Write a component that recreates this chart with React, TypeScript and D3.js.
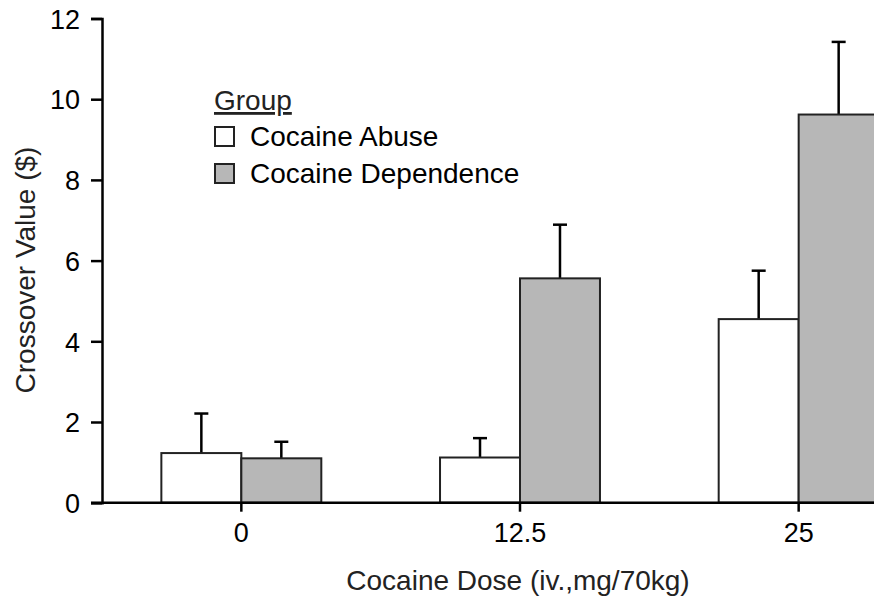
import React, { useEffect, useRef } from 'react'
import * as d3 from 'd3'

const doses = ['0', '12.5', '25']
const groups = ['Cocaine Abuse', 'Cocaine Dependence']
const abuseMeans = [1.23, 1.12, 4.55]
const abuseErr = [2.21, 1.6, 5.75]
const depMeans = [1.1, 5.56, 9.62]
const depErr = [1.51, 6.89, 11.42]
const yTicks = [0, 2, 4, 6, 8, 10, 12]
const groupFill = ['#ffffff', '#b7b7b7']

const W = 874
const H = 597

const App = () => {
  const svgRef = useRef<SVGSVGElement>(null)

  useEffect(() => {
    document.body.style.margin = '0'
    const svg = d3.select(svgRef.current)
    svg.selectAll('*').remove()

    const margin = { top: 18.5, left: 102, bottom: 95 }
    const baseY = H - margin.bottom + 0.7

    const y = d3.scaleLinear().domain([0, 12]).range([baseY, margin.top])

    // outer band for doses, inner band for groups
    const x0 = d3
      .scaleBand()
      .domain(doses)
      .range([margin.left, margin.left + 836])
      .paddingInner(0.426)
      .paddingOuter(0.213)
    const x1 = d3.scaleBand().domain(groups).range([0, x0.bandwidth()])

    const rows = doses.map((d, i) => ({
      dose: d,
      vals: [
        { g: groups[0], m: abuseMeans[i], e: abuseErr[i] },
        { g: groups[1], m: depMeans[i], e: depErr[i] },
      ],
    }))

    const font = 'Liberation Sans, Arial, Helvetica, sans-serif'

    // error bars first so bar outlines sit over them
    const cells = svg
      .append('g')
      .selectAll('g')
      .data(rows)
      .enter()
      .append('g')
      .attr('transform', (d) => `translate(${x0(d.dose)},0)`)

    cells
      .selectAll('line.err')
      .data((d) => d.vals)
      .enter()
      .append('line')
      .attr('class', 'err')
      .attr('x1', (d) => x1(d.g)! + x1.bandwidth() / 2)
      .attr('x2', (d) => x1(d.g)! + x1.bandwidth() / 2)
      .attr('y1', (d) => y(d.m))
      .attr('y2', (d) => y(d.e))
      .attr('stroke', '#000')
      .attr('stroke-width', 2.5)

    cells
      .selectAll('line.cap')
      .data((d) => d.vals)
      .enter()
      .append('line')
      .attr('class', 'cap')
      .attr('x1', (d) => x1(d.g)! + x1.bandwidth() / 2 - 7)
      .attr('x2', (d) => x1(d.g)! + x1.bandwidth() / 2 + 7)
      .attr('y1', (d) => y(d.e))
      .attr('y2', (d) => y(d.e))
      .attr('stroke', '#000')
      .attr('stroke-width', 2.5)

    cells
      .selectAll('rect')
      .data((d) => d.vals)
      .enter()
      .append('rect')
      .attr('x', (d) => x1(d.g)!)
      .attr('y', (d) => y(d.m))
      .attr('width', x1.bandwidth())
      .attr('height', (d) => y(0) - y(d.m))
      .attr('fill', (d) => groupFill[groups.indexOf(d.g)])
      .attr('stroke', '#222')
      .attr('stroke-width', 2)

    // y axis
    const yAxis = svg
      .append('g')
      .attr('transform', `translate(${margin.left},0)`)
      .call(d3.axisLeft(y).tickValues(yTicks).tickSize(11).tickPadding(11))
    yAxis.select('.domain').attr('stroke', '#000').attr('stroke-width', 2.5)
    yAxis.selectAll('.tick line').attr('stroke', '#000').attr('stroke-width', 2.5)
    yAxis
      .selectAll('.tick text')
      .attr('font-family', font)
      .attr('font-size', 27)
      .attr('fill', '#000')
      .attr('dy', '0.36em')

    // x axis
    svg
      .append('line')
      .attr('x1', margin.left - 11)
      .attr('x2', W)
      .attr('y1', y(0))
      .attr('y2', y(0))
      .attr('stroke', '#000')
      .attr('stroke-width', 2.5)
    const xAxis = svg
      .append('g')
      .attr('transform', `translate(0,${y(0)})`)
      .call(d3.axisBottom(x0).tickSize(9).tickPadding(11).tickSizeOuter(0))
    xAxis.select('.domain').remove()
    xAxis.selectAll('.tick line').attr('stroke', '#000').attr('stroke-width', 2.5)
    xAxis
      .selectAll('.tick text')
      .attr('font-family', font)
      .attr('font-size', 27)
      .attr('fill', '#000')

    // axis titles
    svg
      .append('text')
      .attr('transform', `translate(35,270) rotate(-90)`)
      .attr('text-anchor', 'middle')
      .attr('font-family', font)
      .attr('font-size', 28)
      .attr('fill', '#222')
      .text('Crossover Value ($)')

    svg
      .append('text')
      .attr('x', 518)
      .attr('y', 590)
      .attr('text-anchor', 'middle')
      .attr('font-family', font)
      .attr('font-size', 28)
      .attr('fill', '#222')
      .text('Cocaine Dose (iv.,mg/70kg)')

    // legend
    const lg = svg.append('g').attr('transform', 'translate(214,0)')
    lg.append('text')
      .attr('x', 0)
      .attr('y', 110)
      .attr('font-family', font)
      .attr('font-size', 28)
      .attr('fill', '#222')
      .attr('text-decoration', 'underline')
      .text('Group')
    groups.forEach((g, i) => {
      const top = 127 + i * 37
      lg.append('rect')
        .attr('x', 1)
        .attr('y', top)
        .attr('width', 19)
        .attr('height', 19)
        .attr('fill', groupFill[i])
        .attr('stroke', '#222')
        .attr('stroke-width', 2)
      lg.append('text')
        .attr('x', 36)
        .attr('y', top + 19)
        .attr('font-family', font)
        .attr('font-size', 28)
        .attr('fill', '#000')
        .text(g)
    })
  }, [])

  return <svg ref={svgRef} width={W} height={H} style={{ display: 'block' }}></svg>
}

export default App
